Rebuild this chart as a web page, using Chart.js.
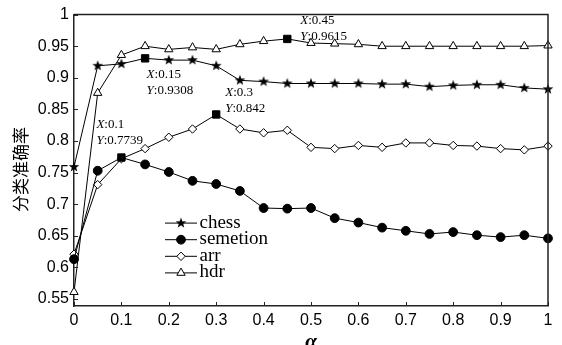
<!DOCTYPE html>
<html>
<head>
<meta charset="utf-8">
<script src="https://cdn.jsdelivr.net/npm/chart.js@4/dist/chart.umd.min.js"></script>
<style>
html,body{margin:0;padding:0;background:#fff;}
canvas{display:block;}
</style>
</head>
<body>
<canvas id="c" width="562" height="345"></canvas>
<script>
// ---------- DATA ----------
const alpha = [0, 0.05, 0.1, 0.15, 0.2, 0.25, 0.3, 0.35, 0.4, 0.45, 0.5, 0.55, 0.6, 0.65, 0.7, 0.75, 0.8, 0.85, 0.9, 0.95, 1];
const chess    = [0.759, 0.919, 0.922, 0.9308, 0.928, 0.928, 0.919, 0.896, 0.894, 0.891, 0.891, 0.891, 0.891, 0.890, 0.890, 0.886, 0.888, 0.889, 0.889, 0.884, 0.882];
const semetion = [0.613, 0.753, 0.7739, 0.763, 0.751, 0.737, 0.732, 0.721, 0.694, 0.693, 0.694, 0.678, 0.671, 0.663, 0.658, 0.653, 0.656, 0.651, 0.648, 0.651, 0.646];
const arr      = [0.621, 0.731, 0.772, 0.788, 0.806, 0.819, 0.842, 0.819, 0.813, 0.817, 0.790, 0.788, 0.793, 0.790, 0.797, 0.797, 0.793, 0.792, 0.788, 0.786, 0.792];
const hdr      = [0.561, 0.876, 0.936, 0.950, 0.945, 0.948, 0.945, 0.953, 0.958, 0.9615, 0.955, 0.954, 0.953, 0.950, 0.950, 0.950, 0.950, 0.950, 0.950, 0.950, 0.951];
const seriesNames = ['chess', 'semetion', 'arr', 'hdr'];
const highlightIndex = [3, 2, 6, 9]; // highlighted (square) point per series
const xTickValues = [0, 0.1, 0.2, 0.3, 0.4, 0.5, 0.6, 0.7, 0.8, 0.9, 1];
const yTickValues = [0.55, 0.6, 0.65, 0.7, 0.75, 0.8, 0.85, 0.9, 0.95, 1];
const annX = [0.1, 0.15, 0.3, 0.45];
const annY = [0.7739, 0.9308, 0.842, 0.9615];
const yTitle = '分类准确率';
const xTitle = 'α';

// ---------- STYLE ----------
const annOffset = [[-25, -33], [1.5, 16], [9, -21.6], [13, -18.7]];
const tickFont = {family: '"Liberation Sans", Arial, sans-serif', size: 16};
const axisColor = '#222';

function makeStar(R, r) {
  const s = Math.ceil(R * 2 + 2);
  const cv = document.createElement('canvas');
  cv.width = s; cv.height = s;
  const g = cv.getContext('2d');
  g.beginPath();
  for (let i = 0; i < 10; i++) {
    const rad = (i % 2 === 0) ? R : r;
    const a = -Math.PI / 2 + i * Math.PI / 5;
    const px = s / 2 + rad * Math.cos(a), py = s / 2 + rad * Math.sin(a);
    if (i === 0) g.moveTo(px, py); else g.lineTo(px, py);
  }
  g.closePath();
  g.fillStyle = '#000';
  g.fill();
  return cv;
}
const starImg = makeStar(5.6, 2.3);

const markerStyles = [
  {style: starImg, radius: 5.5, fill: '#000'},
  {style: 'circle', radius: 4.4, fill: '#000'},
  {style: 'rectRot', radius: 4.2, fill: '#fff'},
  {style: 'triangle', radius: 4.8, fill: '#fff'}
];
const seriesValues = [chess, semetion, arr, hdr];

const datasets = seriesValues.map((vals, si) => {
  const m = markerStyles[si];
  const hi = highlightIndex[si];
  return {
    label: seriesNames[si],
    data: alpha.map((a, i) => ({x: a, y: vals[i]})),
    borderColor: '#000',
    borderWidth: 1,
    clip: false,
    pointStyle: c => c.dataIndex === hi ? 'rect' : m.style,
    pointRadius: c => c.dataIndex === hi ? 5.2 : m.radius,
    pointBackgroundColor: c => c.dataIndex === hi ? '#000' : m.fill,
    pointBorderColor: '#000',
    pointBorderWidth: 1,
    tension: 0
  };
});

const fmt = v => String(+(+v).toFixed(2));

const decor = {
  id: 'decor',
  afterDraw(chart) {
    const {ctx, chartArea: ca, scales} = chart;
    const xs = scales.x, ys = scales.y;
    ctx.save();
    // top + right border
    ctx.strokeStyle = axisColor;
    ctx.lineWidth = 1.5;
    ctx.beginPath();
    ctx.moveTo(ca.left, ca.top);
    ctx.lineTo(ca.right, ca.top);
    ctx.lineTo(ca.right, ca.bottom);
    ctx.stroke();
    // inward ticks
    ctx.lineWidth = 1;
    ctx.beginPath();
    xTickValues.forEach(v => {
      const px = Math.round(xs.getPixelForValue(v)) + 0.5;
      ctx.moveTo(px, ca.bottom);
      ctx.lineTo(px, ca.bottom - 4);
    });
    yTickValues.forEach(v => {
      const py = Math.round(ys.getPixelForValue(v)) + 0.5;
      ctx.moveTo(ca.left, py);
      ctx.lineTo(ca.left + 4, py);
    });
    ctx.stroke();

    // annotations
    ctx.fillStyle = '#000';
    ctx.textBaseline = 'middle';
    ctx.textAlign = 'left';
    annX.forEach((ax, i) => {
      const px = xs.getPixelForValue(ax) + annOffset[i][0];
      const py = ys.getPixelForValue(annY[i]) + annOffset[i][1];
      const lines = [['X', ':' + ax], ['Y', ':' + annY[i]]];
      lines.forEach((ln, k) => {
        const yy = py + k * 16;
        ctx.font = 'italic 13px "Liberation Serif", "Times New Roman", serif';
        ctx.fillText(ln[0], px, yy);
        const w = ctx.measureText(ln[0]).width;
        ctx.font = '13px "Liberation Serif", "Times New Roman", serif';
        ctx.fillText(ln[1], px + w, yy);
      });
    });

    // legend
    const lx0 = ca.left + 91, lx1 = ca.left + 123, ly0 = ca.top + 208.5, dy = 16.6;
    chart.data.datasets.forEach((ds, i) => {
      const y = ly0 + i * dy;
      const m = markerStyles[i];
      ctx.strokeStyle = '#000';
      ctx.lineWidth = 1;
      ctx.beginPath();
      ctx.moveTo(lx0, y); ctx.lineTo(lx1, y);
      ctx.stroke();
      ctx.fillStyle = m.fill;
      ctx.strokeStyle = '#000';
      Chart.helpers.drawPoint(ctx, {pointStyle: m.style, radius: m.radius, rotation: 0, borderWidth: 1}, (lx0 + lx1) / 2, y);
      ctx.fillStyle = '#000';
      ctx.font = '19px "Liberation Serif", "Times New Roman", serif';
      ctx.textBaseline = 'alphabetic';
      ctx.fillText(ds.label, lx1 + 2.5, y + 4.5);
    });

    // axis titles
    ctx.fillStyle = '#000';
    ctx.font = 'bold italic 21px "Liberation Serif", "Times New Roman", serif';
    ctx.textAlign = 'center';
    ctx.textBaseline = 'alphabetic';
    ctx.fillText(xTitle, (ca.left + ca.right) / 2, 348);
    ctx.save();
    ctx.translate(21, ca.top + 155);
    ctx.rotate(-Math.PI / 2);
    ctx.font = '17px "Noto Sans CJK SC", sans-serif';
    ctx.textBaseline = 'middle';
    ctx.fillText(yTitle, 0, 0);
    ctx.restore();
    ctx.restore();
  }
};

new Chart(document.getElementById('c'), {
  type: 'line',
  data: {datasets},
  options: {
    responsive: false,
    animation: false,
    layout: {padding: {top: 11.5, right: 14, left: 0, bottom: 0}},
    plugins: {legend: {display: false}, tooltip: {enabled: false}},
    scales: {
      x: {
        type: 'linear', min: 0, max: 1,
        afterBuildTicks: s => { s.ticks = xTickValues.map(v => ({value: v})); },
        afterFit: s => { s.height = 39; },
        grid: {display: false, drawTicks: false},
        border: {display: true, color: axisColor, width: 1.5},
        ticks: {padding: 5, font: tickFont, color: '#000', maxRotation: 0, autoSkip: false, callback: v => fmt(v)}
      },
      y: {
        type: 'linear', min: 0.539, max: 1,
        afterBuildTicks: s => { s.ticks = yTickValues.map(v => ({value: v})); },
        afterFit: s => { s.width = 74; },
        grid: {display: false, drawTicks: false},
        border: {display: true, color: axisColor, width: 1.5},
        ticks: {padding: 5, font: tickFont, color: '#000', autoSkip: false, callback: v => fmt(v)}
      }
    }
  },
  plugins: [decor]
});
</script>
</body>
</html>
